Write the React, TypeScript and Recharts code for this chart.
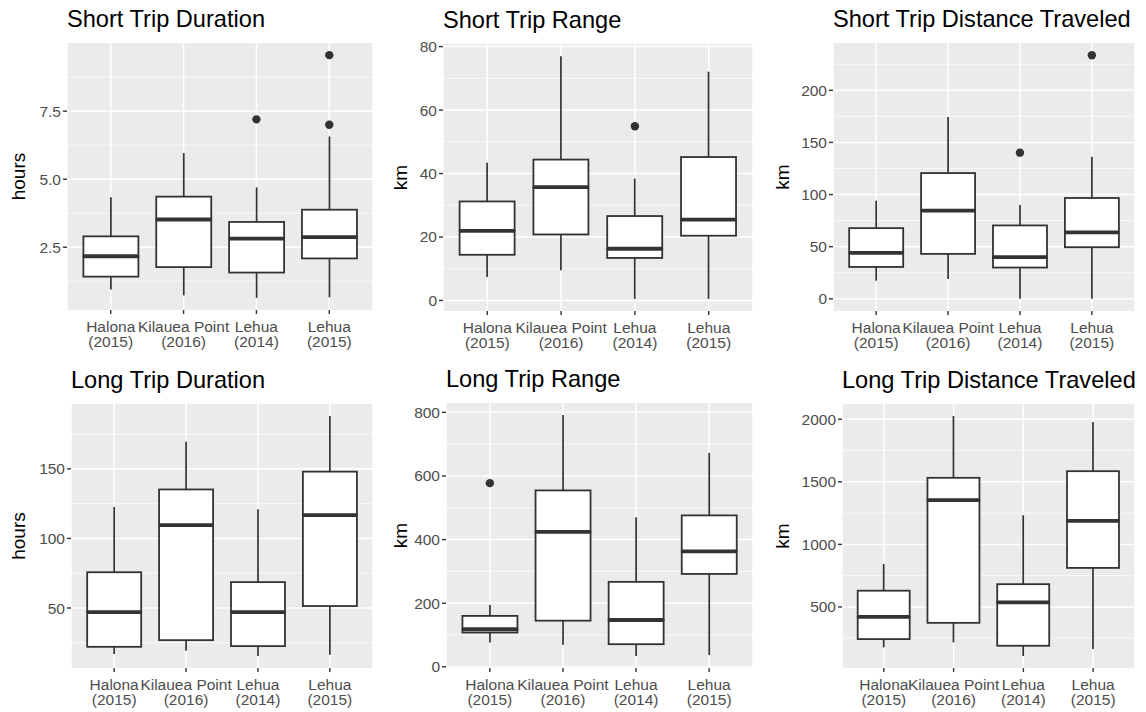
import React from "react";
import { ComposedChart, Bar, Scatter, XAxis, YAxis, CartesianGrid } from "recharts";

const INK = "#333333";
const TICK_TEXT = "#4D4D4D";
const PANEL_BG = "#EBEBEB";
const FONT = "'Liberation Sans', Arial, Helvetica, sans-serif";

const SITES = ["Halona\n(2015)", "Kilauea Point\n(2016)", "Lehua\n(2014)", "Lehua\n(2015)"];

// each box: [lower whisker, Q1, median, Q3, upper whisker], one per site
const SHORT_DURATION = [
  [0.95, 1.42, 2.17, 2.9, 4.34],
  [0.73, 1.77, 3.52, 4.36, 5.96],
  [0.64, 1.57, 2.82, 3.43, 4.7],
  [0.66, 2.09, 2.87, 3.88, 6.57],
];
const SHORT_DURATION_OUT = [[], [], [7.2], [7.0, 9.56]];

const SHORT_RANGE = [
  [7.4, 14.4, 21.9, 31.2, 43.4],
  [9.5, 20.8, 35.7, 44.4, 77.0],
  [0.5, 13.4, 16.3, 26.6, 38.4],
  [0.5, 20.4, 25.5, 45.2, 72.1],
];
const SHORT_RANGE_OUT = [[], [], [54.9], []];

const SHORT_DIST = [
  [17.4, 30.6, 44.1, 67.8, 94.2],
  [19, 43.1, 84.6, 120.6, 174.3],
  [0, 30, 40, 70.4, 90],
  [0, 49.5, 63.7, 96.7, 136.3],
];
const SHORT_DIST_OUT = [[], [], [140.2], [233.7]];

const LONG_DURATION = [
  [16.9, 22.1, 47.1, 75.7, 122.6],
  [19.3, 26.9, 109.5, 135.2, 169.5],
  [15.5, 22.6, 47.1, 68.6, 121],
  [16.4, 51.4, 116.7, 148, 188],
];
const LONG_DURATION_OUT = [[], [], [], []];

const LONG_RANGE = [
  [76, 107.6, 118, 160, 194],
  [69, 145, 424, 554.6, 791.6],
  [34, 71, 147, 267, 470],
  [37, 292, 363, 476, 672],
];
const LONG_RANGE_OUT = [[577.5], [], [], []];

const LONG_DIST = [
  [177, 243, 421, 630, 844],
  [217, 373, 1354, 1532, 2026],
  [108, 190, 537, 682, 1233],
  [164, 812, 1188, 1585, 1979],
];
const LONG_DIST_OUT = [[], [], [], []];

const PANELS = [
  { title: "Short Trip Duration", ylab: "hours", boxes: SHORT_DURATION, outs: SHORT_DURATION_OUT,
    ticks: [2.5, 5, 7.5], minor: [1.25, 3.75, 6.25, 8.75], digits: 1, rect: [67, 43, 373, 310] },
  { title: "Short Trip Range", ylab: "km", boxes: SHORT_RANGE, outs: SHORT_RANGE_OUT,
    ticks: [0, 20, 40, 60, 80], minor: [10, 30, 50, 70], digits: 0, rect: [61, 44, 371, 311] },
  { title: "Short Trip Distance Traveled", ylab: "km", boxes: SHORT_DIST, outs: SHORT_DIST_OUT,
    ticks: [0, 50, 100, 150, 200], minor: [25, 75, 125, 175, 225], digits: 0, rect: [69, 43, 371, 311] },
  { title: "Long Trip Duration", ylab: "hours", boxes: LONG_DURATION, outs: LONG_DURATION_OUT,
    ticks: [50, 100, 150], minor: [25, 75, 125, 175], digits: 0, rect: [71, 48, 373, 312] },
  { title: "Long Trip Range", ylab: "km", boxes: LONG_RANGE, outs: LONG_RANGE_OUT,
    ticks: [0, 200, 400, 600, 800], minor: [100, 300, 500, 700], digits: 0, rect: [64, 47, 371, 312] },
  { title: "Long Trip Distance Traveled", ylab: "km", boxes: LONG_DIST, outs: LONG_DIST_OUT,
    ticks: [500, 1000, 1500, 2000], minor: [250, 750, 1250, 1750], digits: 0, rect: [78, 48, 371, 312] },
];

const CELL_W = 382;
const CELL_H = 356;

function SiteTick({ x, y, payload }: any) {
  const lines = String(payload.value).split("\n");
  return (
    <text x={x} y={y} textAnchor="middle" fill={TICK_TEXT} fontSize={15.5}>
      {lines.map((l, i) => (
        <tspan key={i} x={x} dy={i === 0 ? 15.9 : 15}>
          {l}
        </tspan>
      ))}
    </text>
  );
}

function YLabel({ text, cy }: any) {
  const cx = 24.5;
  return (
    <text x={cx} y={cy} transform={`rotate(-90 ${cx} ${cy})`} textAnchor="middle" fontSize={19} fill="#000">
      {text}
    </text>
  );
}

const span = (p: any) => {
  const top = Math.min(p.y, p.y + p.height);
  return { top, h: Math.abs(p.height), x: p.x, w: p.width };
};

const Whisker = (p: any) => {
  const { top, h, x, w } = span(p);
  const cx = x + w / 2;
  return <line x1={cx} x2={cx} y1={top} y2={top + h} stroke={INK} strokeWidth={1.7} />;
};

const BoxLow = (p: any) => {
  const { top, h, x, w } = span(p);
  return <rect x={x} y={top} width={w} height={h} fill="#fff" stroke={INK} strokeWidth={1.8} />;
};

// upper half of the box; its lower edge is the median
const BoxUp = (p: any) => {
  const { top, h, x, w } = span(p);
  return (
    <g>
      <rect x={x} y={top} width={w} height={h} fill="#fff" stroke={INK} strokeWidth={1.8} />
      <line x1={x} x2={x + w} y1={top + h} y2={top + h} stroke={INK} strokeWidth={3.8} />
    </g>
  );
};

const Outlier = (p: any) => {
  if (p.cy == null || !Number.isFinite(p.cy) || !Number.isFinite(p.cx)) return <g />;
  return <circle cx={p.cx} cy={p.cy} r={4.2} fill={INK} />;
};

function Panel({ cfg }: any) {
  const { title, ylab, boxes, outs, ticks, minor, digits, rect } = cfg;
  const [left, top, right, bottom] = rect;
  const rows = SITES.map((site, i) => {
    const [w0, q1, md, q3, w1] = boxes[i];
    const o = outs[i];
    return {
      site,
      base: w0,
      lw: q1 - w0,
      bl: md - q1,
      bu: q3 - md,
      uw: w1 - q3,
      o1: o[0] ?? null,
      o2: o[1] ?? null,
    };
  });
  // ggplot-style 5% expansion of the data range
  const all = [...boxes.flat(), ...outs.flat()];
  const lo = Math.min(...all);
  const hi = Math.max(...all);
  const ex = (hi - lo) * 0.05;
  const W = right - left;
  const pad = (W * 0.2) / 4.2 / 2;

  return (
    <div style={{ position: "relative", width: CELL_W, height: CELL_H }}>
      <div
        style={{
          position: "absolute",
          left,
          top: top - 35.4,
          fontSize: 23.6,
          lineHeight: 1,
          color: "#000",
          whiteSpace: "nowrap",
        }}
      >
        {title}
      </div>
      <ComposedChart
        width={CELL_W}
        height={CELL_H}
        data={rows}
        margin={{ top, right: CELL_W - right, left: 0, bottom: 0 }}
        barCategoryGap="12.5%"
      >
        <CartesianGrid fill={PANEL_BG} stroke="#fff" strokeWidth={0.7} vertical={false} horizontalValues={minor} />
        <CartesianGrid stroke="#fff" strokeWidth={1.5} horizontalValues={ticks} />
        <XAxis
          dataKey="site"
          type="category"
          allowDuplicatedCategory={false}
          interval={0}
          height={CELL_H - bottom}
          padding={{ left: pad, right: pad }}
          axisLine={false}
          tickLine={{ stroke: INK, strokeWidth: 1.4 }}
          tickSize={4}
          tickMargin={2}
          tick={<SiteTick />}
        />
        <YAxis
          type="number"
          width={left}
          domain={[lo - ex, hi + ex]}
          allowDataOverflow
          ticks={ticks}
          tickFormatter={(v: number) => v.toFixed(digits)}
          axisLine={false}
          tickLine={{ stroke: INK, strokeWidth: 1.4 }}
          tickSize={4}
          tickMargin={2}
          tick={{ fill: TICK_TEXT, fontSize: 15.5 }}
          label={<YLabel text={ylab} cy={(top + bottom) / 2} />}
        />
        <Bar dataKey="base" stackId="b" fill="none" isAnimationActive={false} shape={() => <g />} />
        <Bar dataKey="lw" stackId="b" isAnimationActive={false} shape={Whisker} />
        <Bar dataKey="bl" stackId="b" isAnimationActive={false} shape={BoxLow} />
        <Bar dataKey="bu" stackId="b" isAnimationActive={false} shape={BoxUp} />
        <Bar dataKey="uw" stackId="b" isAnimationActive={false} shape={Whisker} />
        <Scatter dataKey="o1" isAnimationActive={false} shape={Outlier} />
        <Scatter dataKey="o2" isAnimationActive={false} shape={Outlier} />
      </ComposedChart>
    </div>
  );
}

export default function App() {
  return (
    <div
      style={{
        position: "absolute",
        left: 0,
        top: 0,
        width: 1146,
        height: 712,
        background: "#fff",
        fontFamily: FONT,
        display: "grid",
        gridTemplateColumns: `repeat(3, ${CELL_W}px)`,
        gridTemplateRows: `repeat(2, ${CELL_H}px)`,
      }}
    >
      {PANELS.map((p) => (
        <Panel key={p.title} cfg={p} />
      ))}
    </div>
  );
}
